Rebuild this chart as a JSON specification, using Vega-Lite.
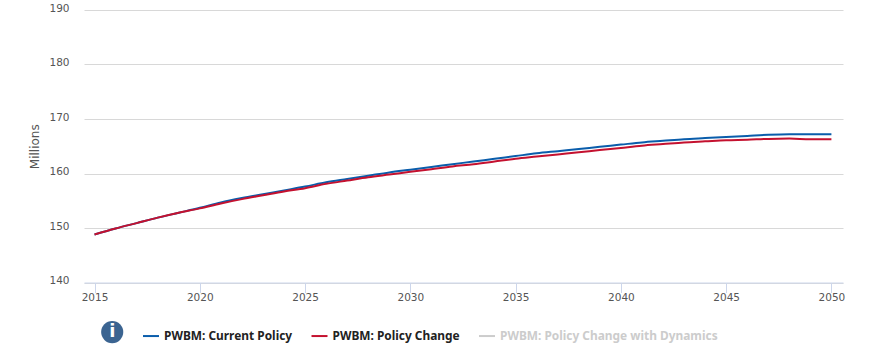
{
"$schema":"https://vega.github.io/schema/vega-lite/v6.json",
"width":759,"height":272.5,"autosize":"none",
"padding":{"left":84,"top":10,"right":41,"bottom":70.5},
"background":"white",
"config":{"view":{"stroke":null},"font":"DejaVu Sans"},
"datasets":{"series":[
{"year":2015,"current":148.8,"change":148.8},{"year":2016,"current":149.9,"change":149.9},{"year":2017,"current":150.9,"change":150.9},{"year":2018,"current":151.9,"change":151.9},{"year":2019,"current":152.8,"change":152.8},{"year":2020,"current":153.7,"change":153.6},{"year":2021,"current":154.7,"change":154.5},{"year":2022,"current":155.5,"change":155.3},{"year":2023,"current":156.2,"change":156.0},{"year":2024,"current":156.9,"change":156.7},{"year":2025,"current":157.6,"change":157.3},{"year":2026,"current":158.4,"change":158.1},{"year":2027,"current":159.0,"change":158.7},{"year":2028,"current":159.6,"change":159.3},{"year":2029,"current":160.2,"change":159.8},{"year":2030,"current":160.7,"change":160.3},{"year":2031,"current":161.2,"change":160.8},{"year":2032,"current":161.7,"change":161.3},{"year":2033,"current":162.2,"change":161.7},{"year":2034,"current":162.7,"change":162.2},{"year":2035,"current":163.2,"change":162.7},{"year":2036,"current":163.7,"change":163.1},{"year":2037,"current":164.1,"change":163.5},{"year":2038,"current":164.5,"change":163.9},{"year":2039,"current":164.9,"change":164.3},{"year":2040,"current":165.3,"change":164.7},{"year":2041,"current":165.7,"change":165.1},{"year":2042,"current":166.0,"change":165.4},{"year":2043,"current":166.3,"change":165.7},{"year":2044,"current":166.5,"change":165.9},{"year":2045,"current":166.7,"change":166.1},{"year":2046,"current":166.9,"change":166.2},{"year":2047,"current":167.1,"change":166.35},{"year":2048,"current":167.2,"change":166.4},{"year":2049,"current":167.2,"change":166.3},{"year":2050,"current":167.2,"change":166.3}
],"info":[{"year":2015.84,"value":130.9,"label":"i"}]},
"layer":[
{"data":{"name":"series"},
"transform":[{"fold":["current","change"],"as":["key","value"]},{"calculate":"datum.key==='current'?'PWBM: Current Policy':'PWBM: Policy Change'","as":"series"}],
"mark":{"type":"line","strokeWidth":2,"clip":false,"interpolate":"monotone"},
"encoding":{
"x":{"field":"year","type":"quantitative","scale":{"domain":[2014.5,2050.55],"nice":false,"zero":false},
"axis":{"values":[2015,2020,2025,2030,2035,2040,2045,2050],"format":"d","title":null,"grid":false,"domainColor":"#ccd6eb","tickColor":"#ccd6eb","tickSize":10,"labelColor":"#555555","labelFontSize":10.5,"labelPadding":0,"labelFont":"DejaVu Sans","labelBound":false,"labelFlush":false}},
"y":{"field":"value","type":"quantitative","scale":{"domain":[140,190],"nice":false,"zero":false},
"axis":{"values":[140,150,160,170,180,190],"title":"Millions","titleColor":"#555555","titleFontSize":12,"titleFontWeight":"normal","titleFont":"DejaVu Sans","titlePadding":7,"grid":true,"gridColor":"#d8d8d8","domain":false,"ticks":false,"labelColor":"#555555","labelFontSize":10.5,"labelPadding":15,"labelOffset":-2,"labelBound":false,"labelFlush":false}},
"color":{"field":"series","type":"nominal","sort":null,"scale":{"domain":["PWBM: Current Policy","PWBM: Policy Change","PWBM: Policy Change with Dynamics"],"range":["#0a5dab","#c4112f","#cccccc"]},
"legend":{"title":null,"orient":"none","legendX":58,"legendY":317,"columns":3,"columnPadding":14.5,"symbolType":"stroke","symbolSize":256,"symbolStrokeWidth":2,"labelFontSize":11.9,"labelFontWeight":"bold","labelFont":"Noto Sans","labelOffset":4,"labelLimit":300,"encode":{"labels":{"update":{"fill":{"signal":"indexof(datum.label,'Dynamics')>=0?'#cccccc':'#222222'"}}}}}},
"detail":{"field":"series"}}},
{"data":{"name":"info"},"mark":{"type":"point","filled":true,"shape":"circle","size":490,"opacity":1,"color":"#3b6491","clip":false},
"encoding":{"x":{"field":"year","type":"quantitative"},"y":{"field":"value","type":"quantitative"}}},
{"data":{"name":"info"},"mark":{"type":"text","color":"white","fontWeight":"bold","fontSize":18,"font":"DejaVu Sans","clip":false},
"encoding":{"x":{"field":"year","type":"quantitative"},"y":{"field":"value","type":"quantitative"},"text":{"field":"label"}}}
]
}
